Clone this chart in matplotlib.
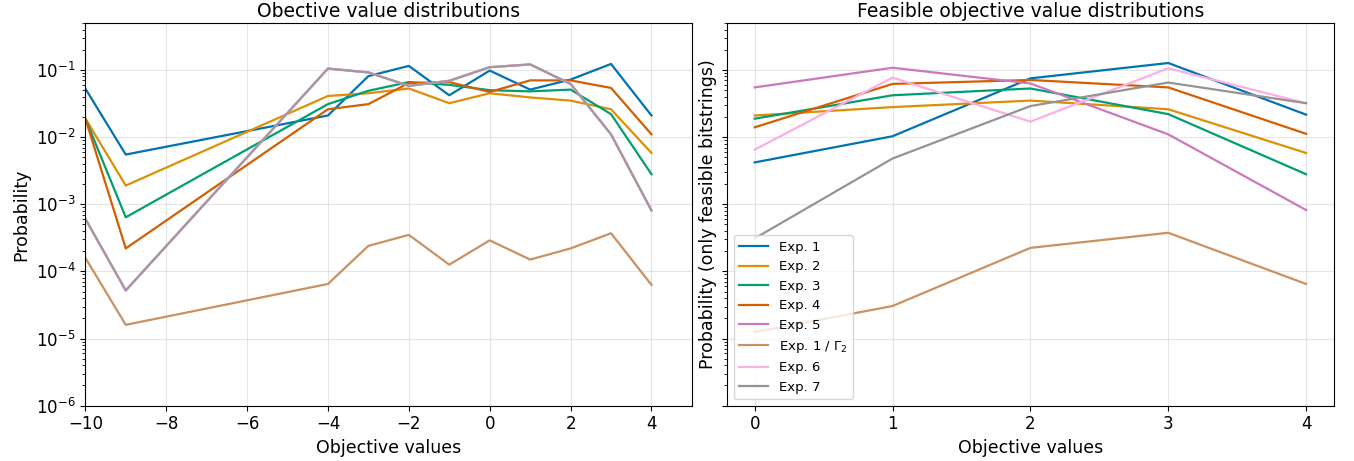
import matplotlib.pyplot as plt
import numpy as np

# Objective values (left: all bitstrings, right: feasible only)
obj_all = [-10, -9, -4, -3, -2, -1, 0, 1, 2, 3, 4]
obj_feas = [0, 1, 2, 3, 4]

labels = ['Exp. 1', 'Exp. 2', 'Exp. 3', 'Exp. 4', 'Exp. 5',
          r'Exp. 1 / $\Gamma_2$', 'Exp. 6', 'Exp. 7']
colors = ['#0173b2', '#de8f05', '#029e73', '#d55e00', '#cc78bc',
          '#ca9161', '#fbafe4', '#949494']

# Left plot: probability over all objective values
p_exp1 = [0.053, 0.0055, 0.021, 0.081, 0.115, 0.042, 0.098, 0.051, 0.072, 0.123, 0.021]
p_exp2 = [0.019, 0.0019, 0.041, 0.045, 0.053, 0.032, 0.045, 0.039, 0.035, 0.026, 0.0058]
p_exp3 = [0.019, 0.00064, 0.031, 0.049, 0.066, 0.060, 0.050, 0.048, 0.051, 0.022, 0.0028]
p_exp4 = [0.019, 0.00022, 0.026, 0.031, 0.064, 0.066, 0.047, 0.070, 0.070, 0.054, 0.011]
p_exp5 = [0.00061, 5.2e-5, 0.105, 0.092, 0.058, 0.069, 0.110, 0.121, 0.062, 0.011, 0.00081]
p_gam2 = [1.6e-4, 1.6e-5, 6.5e-5, 2.4e-4, 3.5e-4, 1.26e-4, 2.9e-4, 1.5e-4, 2.2e-4, 3.7e-4, 6.3e-5]
p_exp6 = [0.00061, 5.2e-5, 0.105, 0.092, 0.058, 0.069, 0.110, 0.121, 0.062, 0.011, 0.00081]
p_exp7 = [0.00061, 5.2e-5, 0.105, 0.092, 0.058, 0.069, 0.110, 0.121, 0.062, 0.011, 0.00081]

# Right plot: probability among feasible bitstrings
f_exp1 = [0.0042, 0.0103, 0.075, 0.127, 0.0216]
f_exp2 = [0.021, 0.028, 0.035, 0.026, 0.0058]
f_exp3 = [0.0188, 0.042, 0.053, 0.022, 0.0028]
f_exp4 = [0.014, 0.062, 0.071, 0.055, 0.0112]
f_exp5 = [0.055, 0.108, 0.063, 0.011, 0.00082]
f_gam2 = [1.25e-5, 3.05e-5, 2.24e-4, 3.76e-4, 6.5e-5]
f_exp6 = [0.0065, 0.077, 0.017, 0.106, 0.032]
f_exp7 = [3.1e-4, 0.0048, 0.029, 0.065, 0.032]

all_series = [p_exp1, p_exp2, p_exp3, p_exp4, p_exp5, p_gam2, p_exp6, p_exp7]
feas_series = [f_exp1, f_exp2, f_exp3, f_exp4, f_exp5, f_gam2, f_exp6, f_exp7]

fig, (ax1, ax2) = plt.subplots(1, 2, figsize=(13.54, 4.61), dpi=100, sharey=True)
fig.subplots_adjust(left=0.063, right=0.985, top=0.95, bottom=0.12, wspace=0.058)

for lab, col, ys in zip(labels, colors, all_series):
    alpha = 0.85 if lab == 'Exp. 7' else 1.0
    ax1.plot(obj_all, ys, color=col, label=lab, lw=1.6, alpha=alpha)
for lab, col, ys in zip(labels, colors, feas_series):
    ax2.plot(obj_feas, ys, color=col, label=lab, lw=1.6)

for ax in (ax1, ax2):
    ax.set_yscale('log')
    ax.grid(True, color='#cccccc', alpha=0.5, lw=0.8)
    ax.tick_params(labelsize=12)
    ax.set_xlabel('Objective values', fontsize=12.5)

ax1.set_ylim(1e-6, 0.5)
ax1.set_xlim(-10, 5)
ax1.set_ylabel('Probability', fontsize=12.5)
ax1.set_title('Obective value distributions', fontsize=13.5, pad=4)

ax2.set_xticks(obj_feas)
ax2.set_ylabel('Probability (only feasible bitstrings)', fontsize=12.5)
ax2.set_title('Feasible objective value distributions', fontsize=13.5, pad=4)
ax2.legend(loc='lower left', fontsize=9.5, handlelength=2.2, borderaxespad=0.5)

plt.savefig('out.png', dpi=100)
